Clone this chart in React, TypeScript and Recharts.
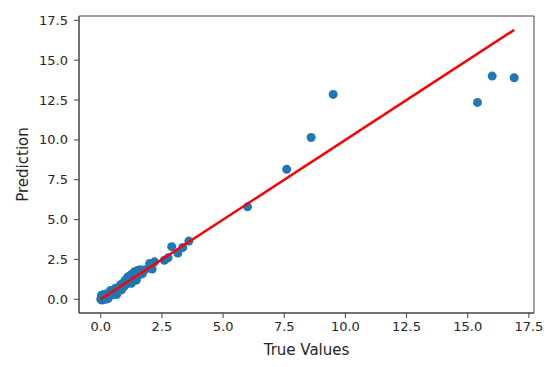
import {
  ScatterChart,
  Scatter,
  XAxis,
  YAxis,
  ReferenceArea,
} from 'recharts';

// True values vs model predictions
const trueValues = [
  0.0, 0.02, 0.05, 0.03, 0.08, 0.1, 0.12, 0.15, 0.18, 0.2,
  0.25, 0.28, 0.3, 0.35, 0.4, 0.45, 0.5, 0.55, 0.6, 0.65,
  0.7, 0.75, 0.8, 0.85, 0.9, 0.95, 1.0, 1.05, 1.1, 1.15,
  1.2, 1.25, 1.3, 1.35, 1.4, 1.45, 1.5, 1.55, 1.6, 1.7,
  1.8, 2.0, 2.1, 2.2, 2.6, 2.75, 2.9, 3.15, 3.35, 3.6,
  1.0, 1.3, 0.6, 0.4,
  6.0, 7.6, 8.6, 9.5, 15.4, 16.0, 16.9,
];
const predictions = [
  0.0, 0.1, -0.05, 0.25, 0.15, 0.02, 0.3, 0.08, 0.2, 0.0,
  0.35, 0.15, 0.05, 0.4, 0.25, 0.5, 0.3, 0.6, 0.45, 0.3,
  0.7, 0.55, 0.9, 0.6, 1.0, 0.8, 1.2, 0.95, 1.4, 1.1,
  1.5, 1.0, 1.6, 1.3, 1.75, 1.2, 1.8, 1.5, 1.85, 1.6,
  1.85, 2.25, 1.9, 2.35, 2.45, 2.6, 3.3, 2.9, 3.25, 3.65,
  1.0, 1.45, 0.7, 0.55,
  5.8, 8.15, 10.15, 12.85, 12.35, 14.0, 13.9,
];
const ticks = [0, 2.5, 5, 7.5, 10, 12.5, 15, 17.5];
const xDomain = [-0.89, 17.71];
const yDomain = [-0.86, 17.77];

const points = trueValues.map((x, i) => ({ x, y: predictions[i] }));
const lo = Math.min(...trueValues);
const hi = Math.max(...trueValues);
// y = x reference line across the range of true values
const fitLine = [{ x: lo, y: lo }, { x: hi, y: hi }];

const axisColor = '#444';
const textColor = '#262626';
const font = 'DejaVu Sans, sans-serif';

export default function App() {
  return (
    <div style={{ position: 'absolute', left: 0, top: 0, background: '#fff' }}>
      <ScatterChart
        width={550}
        height={367}
        margin={{ top: 16, right: 16, left: 0, bottom: 0 }}
      >
        <XAxis
          type="number"
          dataKey="x"
          domain={xDomain}
          ticks={ticks}
          tickFormatter={(v: number) => v.toFixed(1)}
          allowDataOverflow
          height={54}
          stroke={axisColor}
          tickSize={5}
          tickMargin={4}
          tick={{ fill: textColor, fontSize: 13, fontFamily: font }}
          label={{ value: 'True Values', position: 'center', dy: 10, fill: textColor, fontSize: 15, fontFamily: font }}
        />
        <YAxis
          type="number"
          dataKey="y"
          domain={yDomain}
          ticks={ticks}
          tickFormatter={(v: number) => v.toFixed(1)}
          allowDataOverflow
          width={79}
          stroke={axisColor}
          tickSize={5}
          tickMargin={6}
          tick={{ fill: textColor, fontSize: 13, fontFamily: font }}
          label={{ value: 'Prediction', angle: -90, position: 'center', dx: -17, fill: textColor, fontSize: 15, fontFamily: font }}
        />
        <ReferenceArea
          x1={xDomain[0]}
          x2={xDomain[1]}
          y1={yDomain[0]}
          y2={yDomain[1]}
          fill="none"
          fillOpacity={0}
          stroke={axisColor}
          strokeWidth={1}
        />
        <Scatter
          data={points}
          fill="#1f77b4"
          shape={(p: any) => <circle cx={p.cx} cy={p.cy} r={4.5} fill="#1f77b4" />}
          isAnimationActive={false}
        />
        <Scatter
          data={fitLine}
          line={{ stroke: 'red', strokeWidth: 2.5 }}
          shape={() => <g />}
          isAnimationActive={false}
        />
      </ScatterChart>
    </div>
  );
}
